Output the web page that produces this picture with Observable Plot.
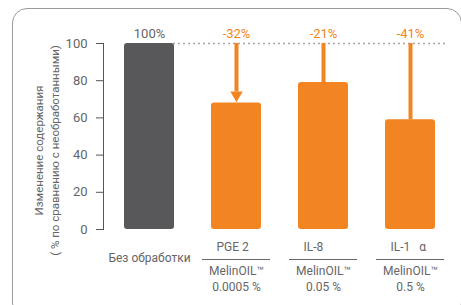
<!DOCTYPE html>
<html><head><meta charset="utf-8">
<script src="https://cdn.jsdelivr.net/npm/d3@7"></script>
<script src="https://cdn.jsdelivr.net/npm/@observablehq/plot@0.6"></script>
<style>
html,body{margin:0;padding:0;background:#fff;overflow:hidden;}
#wrap{position:relative;width:461px;height:305px;}
#border{position:absolute;left:12px;top:8px;width:450px;height:310px;border:1px solid #9a9a9a;border-radius:15px;box-sizing:border-box;pointer-events:none;}
#chart{position:absolute;left:0;top:0;}
</style></head><body>
<div id="wrap"><div id="border"></div><div id="chart"></div></div>
<script>
const categories = ["Без обработки", "PGE 2", "IL-8", "IL-1\u00a0\u00a0\u00a0α"];
const values = [100, 68, 79, 59];
const changeLabels = ["100%", "-32%", "-21%", "-41%"];
const treated = [false, true, true, true];
const arrowHead = [false, true, false, false];
const products = ["", "MelinOIL™", "MelinOIL™", "MelinOIL™"];
const concentrations = ["", "0.0005 %", "0.05 %", "0.5 %"];
const yTicks = [0, 20, 40, 60, 80, 100];
const reference = 100;
const yTitle = "Изменение содержания\n( % по сравнению с необработанными)";

const orange = "#f28522";
const dark = "#58585a";
const textGray = "#666666";

const rows = categories.map((c, i) => ({
  category: c, value: values[i], change: changeLabels[i],
  treated: treated[i], head: arrowHead[i],
  product: products[i], conc: concentrations[i]
}));
const control = rows.filter(d => !d.treated);
const active = rows.filter(d => d.treated);

const chart = Plot.plot({
  width: 461, height: 305,
  marginLeft: 103, marginRight: 6, marginTop: 43, marginBottom: 76,
  x: {type: "band", domain: categories, paddingInner: 0.43, paddingOuter: 0.229, axis: null},
  y: {domain: [0, 100], axis: null},
  style: {fontFamily: "Roboto, sans-serif", fontSize: "12px", color: textGray, background: "transparent"},
  marks: [
    Plot.ruleY([reference], {stroke: "#a8a8a8", strokeWidth: 1.5, strokeDasharray: "2,3", insetLeft: 70, insetRight: 10}),
    Plot.barY(control, {x: "category", y: "value", fill: dark, rx: 3}),
    Plot.barY(active, {x: "category", y: "value", fill: orange, rx: 3}),
    Plot.ruleX(active.filter(d => !d.head), {x: "category", y1: reference, y2: "value", stroke: orange, strokeWidth: 4}),
    Plot.ruleX(active.filter(d => d.head), {x: "category", y1: reference, y2: "value", stroke: orange, strokeWidth: 4, insetBottom: 11}),
    Plot.dot(active.filter(d => d.head), {x: "category", y: "value", symbol: "triangle", rotate: 180, r: 4.6, fill: orange, stroke: "none", dy: -8}),
    Plot.text(control, {x: "category", y: reference, text: "change", dy: -10, fill: textGray, fontSize: 13}),
    Plot.text(active, {x: "category", y: reference, text: "change", dy: -10, fill: orange, fontSize: 13}),
    Plot.frame({anchor: "left", stroke: "#555"}),
    Plot.axisY(yTicks, {tickSize: 7, tickPadding: 9, fontSize: 13, stroke: "#555", color: textGray, label: null}),
    Plot.text([yTitle], {frameAnchor: "left", textAnchor: "middle", rotate: -90, dx: -58, dy: 14, fontSize: 11.5, lineHeight: 1.4, fill: textGray, text: d => d}),
    Plot.text(control, {x: "category", y: 0, text: "category", dy: 29, fill: textGray, fontSize: 12}),
    Plot.text(active, {x: "category", y: 0, text: "category", dy: 18, dx: -20, textAnchor: "start", fill: textGray, fontSize: 12}),
    Plot.tickY(active, {x: "category", y: 0, dy: 30, insetLeft: -9, insetRight: -9, stroke: "#666", strokeWidth: 1.2}),
    Plot.text(active, {x: "category", y: 0, text: "product", dy: 42, fill: textGray, fontSize: 12}),
    Plot.text(active, {x: "category", y: 0, text: "conc", dy: 58, fill: textGray, fontSize: 12})
  ]
});
document.getElementById("chart").appendChild(chart);
</script>
</body></html>
